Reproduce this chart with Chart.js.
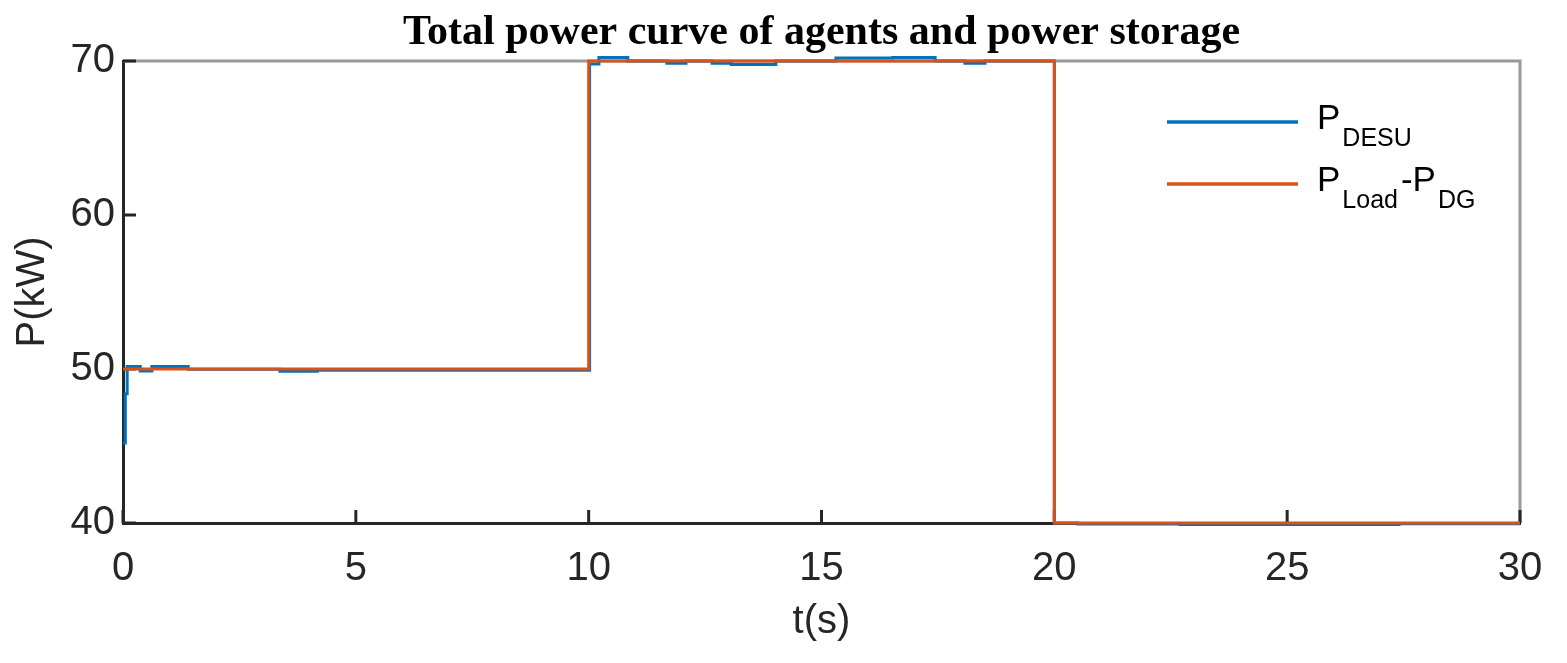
<!DOCTYPE html>
<html>
<head>
<meta charset="utf-8">
<script src="https://cdn.jsdelivr.net/npm/chart.js@4/dist/chart.umd.min.js"></script>
<style>
  html, body { margin: 0; padding: 0; background: #fff; }
  #wrap { width: 1567px; height: 663px; }
</style>
</head>
<body>
<div id="wrap"><canvas id="power-chart"></canvas></div>
<script>
// P_DESU (blue), stepped
const desuTime  = [0, 0.05, 0.09, 0.37, 0.62, 1.40, 3.37, 4.17, 10.02, 10.22, 10.84, 11.68, 12.09, 12.65, 13.06, 14.02, 15.31, 16.53, 17.44, 18.08, 18.51, 20.0, 20.5, 22.7, 27.4, 30];
const desuPower = [45.2, 48.4, 50.17, 49.87, 50.17, 49.98, 49.85, 49.92, 69.8, 70.23, 70.0, 69.85, 70.0, 69.85, 69.78, 70.0, 70.19, 70.23, 70.0, 69.85, 70.0, 40.0, 39.93, 39.9, 39.95, 39.95];

// P_Load - P_DG (orange)
const netTime  = [0, 10, 20, 30];
const netPower = [50, 70, 40, 40];

// 축 눈금
const xTicks = [0, 5, 10, 15, 20, 25, 30];
const yTicks = [40, 50, 60, 70];

// 범례 텍스트 (본문, 아래첨자)
const desuLabel = [['P', 'DESU']];
const netLabel  = [['P', 'Load'], ['-P', 'DG']];

const BLUE = '#0072BD';
const ORANGE = '#D95319';
const AXIS = '#262626';

const toPoints = (ts, vs) => ts.map((t, i) => ({ x: t, y: vs[i] }));

// 상단/오른쪽 회색 테두리 + 안쪽 눈금
const framePlugin = {
  id: 'frame',
  beforeDatasetsDraw(chart) {
    const { ctx, chartArea: a, scales } = chart;
    ctx.save();
    ctx.strokeStyle = '#999999';
    ctx.lineWidth = 3;
    ctx.beginPath();
    ctx.moveTo(a.left, a.top);
    ctx.lineTo(a.right, a.top);
    ctx.lineTo(a.right, a.bottom);
    ctx.stroke();

    ctx.strokeStyle = AXIS;
    ctx.lineWidth = 3;
    ctx.beginPath();
    xTicks.forEach(v => {
      const px = scales.x.getPixelForValue(v);
      ctx.moveTo(px, a.bottom);
      ctx.lineTo(px, a.bottom - 13);
    });
    yTicks.forEach(v => {
      const py = scales.y.getPixelForValue(v);
      ctx.moveTo(a.left, py);
      ctx.lineTo(a.left + 13, py);
    });
    ctx.stroke();
    ctx.restore();
  }
};

// 아래첨자가 있는 범례
const legendPlugin = {
  id: 'subLegend',
  afterDraw(chart) {
    const { ctx } = chart;
    const entries = [
      { parts: desuLabel, color: BLUE, y: 122 },
      { parts: netLabel, color: ORANGE, y: 184 }
    ];
    ctx.save();
    entries.forEach(e => {
      ctx.strokeStyle = e.color;
      ctx.lineWidth = 3.5;
      ctx.beginPath();
      ctx.moveTo(1167, e.y);
      ctx.lineTo(1298, e.y);
      ctx.stroke();

      let x = 1317;
      const base = e.y + 7;
      ctx.fillStyle = '#000';
      ctx.textBaseline = 'alphabetic';
      ctx.textAlign = 'left';
      e.parts.forEach(([main, sub]) => {
        ctx.font = '35px "Liberation Sans"';
        ctx.fillText(main, x, base);
        x += ctx.measureText(main).width + 2;
        ctx.font = '25px "Liberation Sans"';
        ctx.fillText(sub, x, base + 17);
        x += ctx.measureText(sub).width + 3;
      });
    });
    ctx.restore();
  }
};

const ctx = document.getElementById('power-chart').getContext('2d');
new Chart(ctx, {
  type: 'line',
  data: {
    datasets: [
      {
        label: 'P_DESU',
        data: toPoints(desuTime, desuPower),
        stepped: 'before',
        borderColor: BLUE,
        borderWidth: 3,
        pointRadius: 0,
        fill: false,
        clip: 6,
        order: 2
      },
      {
        label: 'P_Load-P_DG',
        data: toPoints(netTime, netPower),
        stepped: 'before',
        borderColor: ORANGE,
        borderWidth: 3,
        pointRadius: 0,
        fill: false,
        clip: 6,
        order: 1
      }
    ]
  },
  options: {
    responsive: true,
    maintainAspectRatio: false,
    animation: false,
    layout: { padding: { left: 0, right: 47, top: 0, bottom: 0 } },
    plugins: {
      legend: { display: false },
      tooltip: { enabled: false },
      title: {
        display: true,
        fullSize: false,
        text: 'Total power curve of agents and power storage',
        color: '#000',
        font: { family: 'Liberation Serif', size: 42, weight: 'bold', lineHeight: 1.2 },
        padding: { top: 8, bottom: 2.6 }
      }
    },
    scales: {
      x: {
        type: 'linear',
        min: 0,
        max: 30,
        afterBuildTicks: s => { s.ticks = xTicks.map(v => ({ value: v })); },
        afterFit: s => { s.height = 140; },
        grid: { display: false, drawTicks: false },
        border: { display: true, color: AXIS, width: 3 },
        ticks: {
          color: AXIS,
          font: { family: 'Liberation Sans', size: 40 },
          padding: 22,
          maxRotation: 0
        },
        title: {
          display: true,
          text: 't(s)',
          color: AXIS,
          font: { family: 'Liberation Sans', size: 40 },
          padding: { top: 0, bottom: 17 }
        }
      },
      y: {
        min: 40,
        max: 70,
        afterBuildTicks: s => { s.ticks = yTicks.map(v => ({ value: v })); },
        afterFit: s => { s.width = 123; },
        grid: { display: false, drawTicks: false },
        border: { display: true, color: AXIS, width: 3 },
        ticks: {
          color: AXIS,
          font: { family: 'Liberation Sans', size: 40 },
          padding: 8
        },
        title: {
          display: true,
          text: 'P(kW)',
          color: AXIS,
          font: { family: 'Liberation Sans', size: 40 },
          padding: { top: 9, bottom: 0 }
        }
      }
    }
  },
  plugins: [framePlugin, legendPlugin]
});
</script>
</body>
</html>
